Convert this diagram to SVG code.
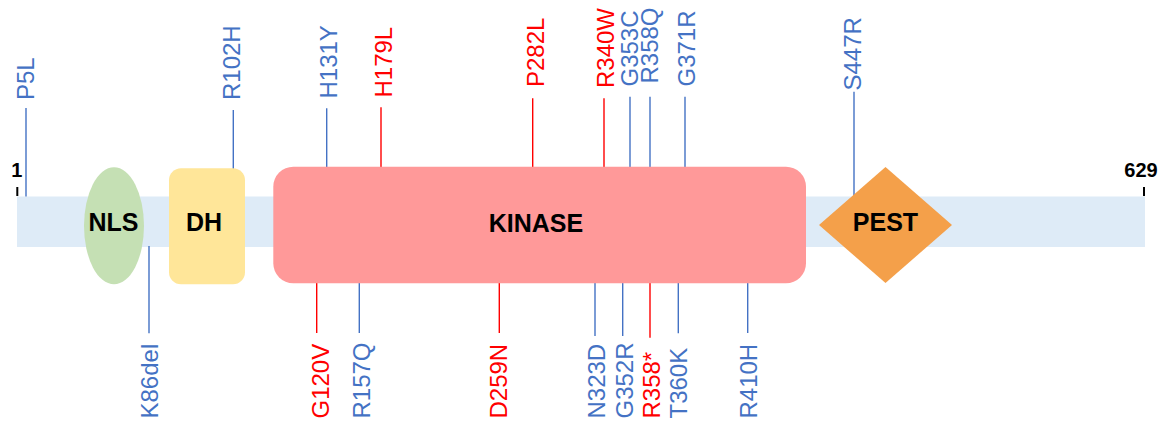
<svg xmlns="http://www.w3.org/2000/svg" width="1167" height="421" viewBox="0 0 1167 421">
<style>
  .dom { font-family: "Liberation Sans", Arial, sans-serif; font-weight: bold; font-size: 25px; fill: #000; text-anchor: middle; }
  .pos { font-family: "Liberation Sans", Arial, sans-serif; font-weight: bold; font-size: 20px; fill: #000; text-anchor: middle; }
  .mut { font-family: "Liberation Sans", Arial, sans-serif; font-size: 24px; }
  .b { fill: #4472C4; }
  .r { fill: #FF0000; }
  .lb { stroke: #4472C4; stroke-width: 1.4; fill: none; }
  .lr { stroke: #FF0000; stroke-width: 1.4; fill: none; }
  .tick { stroke: #000; stroke-width: 2; }
</style>
<rect width="1167" height="421" fill="#FFFFFF"/>

<g id="protein">
  <rect x="17" y="196.5" width="1128" height="50.5" fill="#DEEBF7"/>
  <line class="tick" x1="17.3" y1="187" x2="17.3" y2="196"/>
  <line class="tick" x1="1144" y1="187" x2="1144" y2="196"/>
  <text class="pos" x="16.7" y="176.7">1</text>
  <text class="pos" x="1141" y="176.7">629</text>
</g>

<g id="connectors">
  <line class="lb" x1="26" y1="108" x2="26" y2="196.5"/>
  <line class="lb" x1="233.3" y1="110" x2="233.3" y2="169"/>
  <line class="lb" x1="326.7" y1="108.3" x2="326.7" y2="168"/>
  <line class="lr" x1="381" y1="107.3" x2="381" y2="168"/>
  <line class="lr" x1="532.7" y1="98.3" x2="532.7" y2="168"/>
  <line class="lr" x1="604" y1="98.3" x2="604" y2="168"/>
  <line class="lb" x1="630" y1="96.7" x2="630" y2="168"/>
  <line class="lb" x1="650" y1="96.7" x2="650" y2="168"/>
  <line class="lb" x1="685" y1="96.7" x2="685" y2="168"/>
  <line class="lb" x1="854" y1="91.7" x2="854" y2="198"/>
  <line class="lb" x1="149" y1="246" x2="149" y2="333.3"/>
  <line class="lr" x1="316.7" y1="282" x2="316.7" y2="333"/>
  <line class="lb" x1="359.3" y1="282" x2="359.3" y2="333"/>
  <line class="lr" x1="499.3" y1="282" x2="499.3" y2="333"/>
  <line class="lb" x1="595" y1="282" x2="595" y2="336"/>
  <line class="lb" x1="622.7" y1="282" x2="622.7" y2="336"/>
  <line class="lr" x1="650" y1="282" x2="650" y2="337.7"/>
  <line class="lb" x1="678.3" y1="282" x2="678.3" y2="333.3"/>
  <line class="lb" x1="747.7" y1="282" x2="747.7" y2="333"/>
</g>

<g id="nls">
  <ellipse cx="114" cy="225.8" rx="30" ry="58.5" fill="#C5E0B4"/>
  <text class="dom" x="113.5" y="230.7">NLS</text>
</g>
<g id="dh">
  <rect x="169" y="168.3" width="76" height="116" rx="12" ry="12" fill="#FFE699"/>
  <text class="dom" x="204" y="230.7">DH</text>
</g>
<g id="kinase">
  <rect x="273.3" y="166.7" width="532.7" height="116.6" rx="20" ry="20" fill="#FF9999"/>
  <text class="dom" x="536" y="231.7">KINASE</text>
</g>
<g id="pest">
  <polygon points="819,225 885.5,167 952,225 885.5,283" fill="#F4A04A"/>
  <text class="dom" x="885.5" y="231">PEST</text>
</g>

<g id="mut-P5L"><text class="mut b" transform="translate(34.3,100) rotate(-90)">P5L</text></g>
<g id="mut-R102H"><text class="mut b" transform="translate(240,100) rotate(-90)">R102H</text></g>
<g id="mut-H131Y"><text class="mut b" transform="translate(336.7,98.5) rotate(-90)">H131Y</text></g>
<g id="mut-H179L"><text class="mut r" transform="translate(391.7,97.5) rotate(-90)">H179L</text></g>
<g id="mut-P282L"><text class="mut r" transform="translate(543.5,87) rotate(-90)">P282L</text></g>
<g id="mut-R340W"><text class="mut r" transform="translate(614.3,88) rotate(-90)">R340W</text></g>
<g id="mut-G353C"><text class="mut b" transform="translate(638.3,86.5) rotate(-90)">G353C</text></g>
<g id="mut-R358Q"><text class="mut b" transform="translate(657.5,83.5) rotate(-90)">R358Q</text></g>
<g id="mut-G371R"><text class="mut b" transform="translate(695,86.5) rotate(-90)">G371R</text></g>
<g id="mut-S447R"><text class="mut b" transform="translate(861,90.5) rotate(-90)">S447R</text></g>

<g id="mut-K86del"><text class="mut b" transform="translate(158.3,418.5) rotate(-90)">K86del</text></g>
<g id="mut-G120V"><text class="mut r" transform="translate(329,418.5) rotate(-90)">G120V</text></g>
<g id="mut-R157Q"><text class="mut b" transform="translate(369.5,418.5) rotate(-90)">R157Q</text></g>
<g id="mut-D259N"><text class="mut r" transform="translate(507.3,418.5) rotate(-90)">D259N</text></g>
<g id="mut-N323D"><text class="mut b" transform="translate(605,418.5) rotate(-90)">N323D</text></g>
<g id="mut-G352R"><text class="mut b" transform="translate(633.3,418.5) rotate(-90)">G352R</text></g>
<g id="mut-R358X"><text class="mut r" transform="translate(660,418.5) rotate(-90)">R358*</text></g>
<g id="mut-T360K"><text class="mut b" transform="translate(686.7,418.5) rotate(-90)">T360K</text></g>
<g id="mut-R410H"><text class="mut b" transform="translate(756.7,418.5) rotate(-90)">R410H</text></g>
</svg>
